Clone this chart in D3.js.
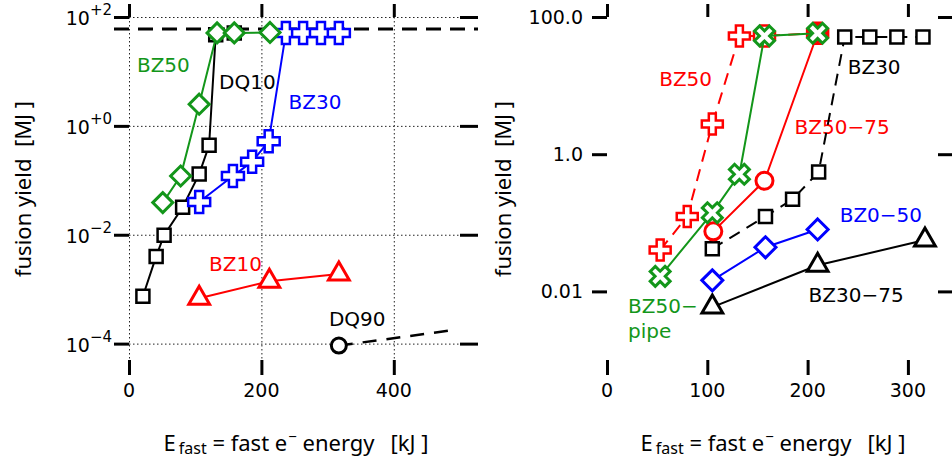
<!DOCTYPE html>
<html>
<head>
<meta charset="utf-8">
<script src="https://cdn.jsdelivr.net/npm/d3@7"></script>
<style>
  html, body { margin: 0; padding: 0; background: #fff; }
  svg { display: block; }
  text { white-space: pre; }
</style>
</head>
<body>
<svg id="chart" width="952" height="460"></svg>
<script>
// ---------------- DATA ----------------
// Left panel (log scale, 10^n ticks)
const leftXTicks = [0, 200, 400];
const leftYTicks = [1e2, 1, 1e-2, 1e-4];
const leftYTickLabels = [["10", "+2"], ["10", "+0"], ["10", "\u22122"], ["10", "\u22124"]];
const leftRefYield = 60;               // dashed horizontal reference

const L_BZ50_x = [51, 78, 106, 133, 159, 213];
const L_BZ50_y = [0.039, 0.12, 2.5, 51, 51, 52];
const L_DQ10_x = [21, 41, 53, 81, 106, 121, 131, 159];
const L_DQ10_y = [7.4e-4, 0.004, 0.0098, 0.032, 0.13, 0.44, 47, 51];
const L_BZ30_x = [106, 157, 186, 211, 237, 263, 290, 317];
const L_BZ30_y = [0.04, 0.12, 0.22, 0.52, 51, 51, 51, 51];
const L_BZ10_x = [106, 212, 317];
const L_BZ10_y = [6.8e-4, 0.0014, 0.0019];
const L_DQ90_x = [317];
const L_DQ90_y = [9.2e-5];
const L_DQ90_trend_x = [317, 487];
const L_DQ90_trend_y = [9.2e-5, 1.75e-4];

// Right panel
const rightXTicks = [0, 100, 200, 300];
const rightYTicks = [100, 1, 0.01];
const rightYTickLabels = ["100.0", "1.0", "0.01"];

const R_BZ50_x = [53, 80, 105, 132, 157, 210];
const R_BZ50_y = [0.04, 0.124, 2.75, 53, 53, 58];
const R_BZ50pipe_x = [53, 105, 132, 157, 210];
const R_BZ50pipe_y = [0.0166, 0.14, 0.51, 53, 58];
const R_BZ50_75_x = [106, 157, 210];
const R_BZ50_75_y = [0.075, 0.41, 58];
const R_BZ30_x = [105, 158, 185, 211, 237, 262, 289, 315];
const R_BZ30_y = [0.042, 0.124, 0.22, 0.55, 51, 51, 51, 51];
const R_BZ0_50_x = [105, 158, 210];
const R_BZ0_50_y = [0.0145, 0.044, 0.08];
const R_BZ30_75_x = [105, 210, 317];
const R_BZ30_75_y = [0.0059, 0.024, 0.056];

// annotation text + anchor in data units
const leftLabels = [
  { t: "BZ50", x: 12, y: 9.8, c: "green" },
  { t: "DQ10", x: 136, y: 4.75, c: "black" },
  { t: "BZ30", x: 241, y: 2.0, c: "blue" },
  { t: "BZ10", x: 121, y: 0.00216, c: "red" },
  { t: "DQ90", x: 302, y: 2.1e-4, c: "black" }
];
const rightLabels = [
  { t: "BZ50", x: 52, y: 9.9, c: "red" },
  { t: "BZ30", x: 240, y: 14.8, c: "black" },
  { t: "BZ50\u221275", x: 187, y: 1.97, c: "red" },
  { t: "BZ0\u221250", x: 232, y: 0.103, c: "blue" },
  { t: "BZ50\u2212", x: 21, y: 0.00484, c: "green", t2: "pipe" },
  { t: "BZ30\u221275", x: 201, y: 0.007, c: "black" }
];

// ---------------- STYLE ----------------
const COL = { green: "#13961a", red: "#ff0000", blue: "#0000ff", black: "#000000" };
const TICKFONT = "DejaVu Sans, Verdana, sans-serif";
const TITLEFONT = "Noto Sans, Open Sans, sans-serif";

const svg = d3.select("#chart");

// marker shapes
const shp = {
  square: s => `M${-s/2},${-s/2}h${s}v${s}h${-s}Z`,
  diamond: r => `M0,${-r}L${r},0L0,${r}L${-r},0Z`,
  triangle: r => { const h = r * 0.866; return `M0,${-r}L${h},${r/2}L${-h},${r/2}Z`; },
  circle: r => `M${r},0A${r},${r} 0 1,1 ${-r},0A${r},${r} 0 1,1 ${r},0Z`,
  plus: (L, w) => `M${-w},${-L}H${w}V${-w}H${L}V${w}H${w}V${L}H${-w}V${w}H${-L}V${-w}H${-w}Z`
};

function series(g, xs, ys, sx, sy, o) {
  const pts = xs.map((x, i) => [sx(x), sy(ys[i])]);
  if (o.line !== false) {
    g.append("path")
      .attr("d", d3.line()(pts))
      .attr("fill", "none")
      .attr("stroke", o.color)
      .attr("stroke-width", o.lw || 2)
      .attr("stroke-dasharray", o.dash || null);
  }
  if (o.marker) {
    g.selectAll(null).data(pts).enter().append("path")
      .attr("d", o.marker)
      .attr("transform", d => `translate(${d[0]},${d[1]})${o.rot ? " rotate(" + o.rot + ")" : ""}`)
      .attr("fill", "#fff")
      .attr("stroke", o.color)
      .attr("stroke-width", o.mw || 2.5)
      .attr("stroke-linejoin", "miter");
  }
}

function frameTicks(g, sx, sy, xt, yt, rightLen) {
  const [x0, x1] = sx.range();
  const [y1, y0] = sy.range();
  const style = s => {
    s.select(".domain").remove();
    s.selectAll("text").remove();
    s.selectAll("line").attr("stroke", "#000").attr("stroke-width", 3);
  };
  g.append("g").attr("transform", `translate(${x0},0)`)
    .call(d3.axisLeft(sy).tickValues(yt).tickSize(15).tickSizeOuter(0)).call(style);
  g.append("g").attr("transform", `translate(${x1},0)`)
    .call(d3.axisRight(sy).tickValues(yt).tickSize(rightLen).tickSizeOuter(0)).call(style);
  g.append("g").attr("transform", `translate(0,${y0})`)
    .call(d3.axisTop(sx).tickValues(xt).tickSize(13).tickSizeOuter(0)).call(style);
  g.append("g").attr("transform", `translate(0,${y1})`)
    .call(d3.axisBottom(sx).tickValues(xt).tickSize(15).tickSizeOuter(0)).call(style);
  g.selectAll(null).data(xt).enter().append("text")
    .attr("x", d => sx(d)).attr("y", 397)
    .attr("text-anchor", "middle")
    .attr("font-family", TICKFONT).attr("font-size", 19).attr("fill", "#000")
    .text(d => d);
}

function titles(g, cx, ylabX) {
  const t = g.append("text")
    .attr("x", cx).attr("y", 451)
    .attr("text-anchor", "middle")
    .attr("font-family", TITLEFONT).attr("font-size", 22).attr("fill", "#000");
  t.append("tspan").text("E");
  t.append("tspan").attr("font-size", 16).attr("dy", 3).attr("dx", 3).text("fast");
  t.append("tspan").attr("dy", -3).text(" = fast e");
  t.append("tspan").attr("font-size", 15).attr("dy", -9).attr("dx", 1).text("\u2212");
  t.append("tspan").attr("dy", 9).text(" energy");
  t.append("tspan").attr("dx", 16).text("[kJ ]");

  g.append("text")
    .attr("transform", `translate(${ylabX},189) rotate(-90)`)
    .attr("text-anchor", "middle")
    .attr("font-family", TITLEFONT).attr("font-size", 22).attr("fill", "#000")
    .text("fusion yield  [MJ ]");
}

function labels(g, arr, sx, sy) {
  arr.forEach(l => {
    g.append("text")
      .attr("x", sx(l.x)).attr("y", sy(l.y))
      .attr("font-family", TICKFONT).attr("font-size", 20)
      .attr("fill", COL[l.c]).text(l.t);
    if (l.t2) {
      g.append("text")
        .attr("x", sx(l.x)).attr("y", sy(l.y) + 25)
        .attr("font-family", TICKFONT).attr("font-size", 20)
        .attr("fill", COL[l.c]).text(l.t2);
    }
  });
}

// ---------------- LEFT PANEL ----------------
const xL = d3.scaleLinear().domain([0, 500]).range([129, 460]);
const yL = d3.scaleLog().domain([5e-5, 100]).range([360, 17]);
const gL = svg.append("g");

// dotted grid
gL.append("g").selectAll(null).data(leftXTicks).enter().append("line")
  .attr("x1", d => xL(d) + 0.5).attr("x2", d => xL(d) + 0.5)
  .attr("y1", yL.range()[1]).attr("y2", yL.range()[0])
  .attr("stroke", "#222").attr("stroke-width", 1).attr("stroke-dasharray", "1.5,2.5");
gL.append("g").selectAll(null).data(leftYTicks).enter().append("line")
  .attr("x1", xL.range()[0]).attr("x2", xL.range()[1])
  .attr("y1", d => yL(d) + 0.5).attr("y2", d => yL(d) + 0.5)
  .attr("stroke", "#222").attr("stroke-width", 1).attr("stroke-dasharray", "1.5,2.5");

frameTicks(gL, xL, yL, leftXTicks, leftYTicks, 18);

// y tick labels with superscripts
leftYTicks.forEach((v, i) => {
  const t = gL.append("text")
    .attr("x", 112).attr("y", yL(v) + 8)
    .attr("text-anchor", "end")
    .attr("font-family", TICKFONT).attr("font-size", 19).attr("fill", "#000");
  t.append("tspan").text(leftYTickLabels[i][0]);
  t.append("tspan").attr("font-size", 15).attr("dy", -10).text(leftYTickLabels[i][1]);
});

// reference dashed line
gL.append("line")
  .attr("x1", 114).attr("x2", 478)
  .attr("y1", yL(leftRefYield)).attr("y2", yL(leftRefYield))
  .attr("stroke", "#000").attr("stroke-width", 3).attr("stroke-dasharray", "15,9");

labels(gL, leftLabels, xL, yL);

series(gL, L_DQ90_trend_x, L_DQ90_trend_y, xL, yL, { color: COL.black, dash: "14,10", lw: 2.5 });
series(gL, L_DQ90_x, L_DQ90_y, xL, yL, { color: COL.black, line: false, marker: shp.circle(7.5), mw: 3 });
series(gL, L_BZ10_x, L_BZ10_y, xL, yL, { color: COL.red, marker: shp.triangle(12), mw: 3 });
series(gL, L_DQ10_x, L_DQ10_y, xL, yL, { color: COL.black, marker: shp.square(13), mw: 2.5 });
series(gL, L_BZ30_x, L_BZ30_y, xL, yL, { color: COL.blue, marker: shp.plus(11, 4), mw: 2.5 });
series(gL, L_BZ50_x, L_BZ50_y, xL, yL, { color: COL.green, marker: shp.diamond(10), mw: 3 });

titles(gL, 296, 31);

// ---------------- RIGHT PANEL ----------------
const xR = d3.scaleLinear().domain([0, 330]).range([607, 938]);
const yR = d3.scaleLog().domain([1e-3, 100]).range([360, 17]);
const gR = svg.append("g");

frameTicks(gR, xR, yR, rightXTicks, rightYTicks, 14);

gR.selectAll(null).data(rightYTicks).enter().append("text")
  .attr("x", 583).attr("y", d => yR(d) + 7)
  .attr("text-anchor", "end")
  .attr("font-family", TICKFONT).attr("font-size", 19).attr("fill", "#000")
  .text((d, i) => rightYTickLabels[i]);

labels(gR, rightLabels, xR, yR);

series(gR, R_BZ50_x, R_BZ50_y, xR, yR, { color: COL.red, dash: "12,8", marker: shp.plus(10.5, 3.5), mw: 2.5 });
series(gR, R_BZ30_x, R_BZ30_y, xR, yR, { color: COL.black, dash: "12,8", marker: shp.square(13), mw: 2.5 });
series(gR, R_BZ30_75_x, R_BZ30_75_y, xR, yR, { color: COL.black, marker: shp.triangle(12), mw: 3 });
series(gR, R_BZ0_50_x, R_BZ0_50_y, xR, yR, { color: COL.blue, marker: shp.diamond(10.5), mw: 3 });
series(gR, R_BZ50_75_x, R_BZ50_75_y, xR, yR, { color: COL.red, marker: shp.circle(8.5), mw: 3 });
series(gR, R_BZ50pipe_x, R_BZ50pipe_y, xR, yR, { color: COL.green, marker: shp.plus(10.5, 3.6), rot: 45, mw: 3 });

titles(gR, 773, 511);
</script>
</body>
</html>
